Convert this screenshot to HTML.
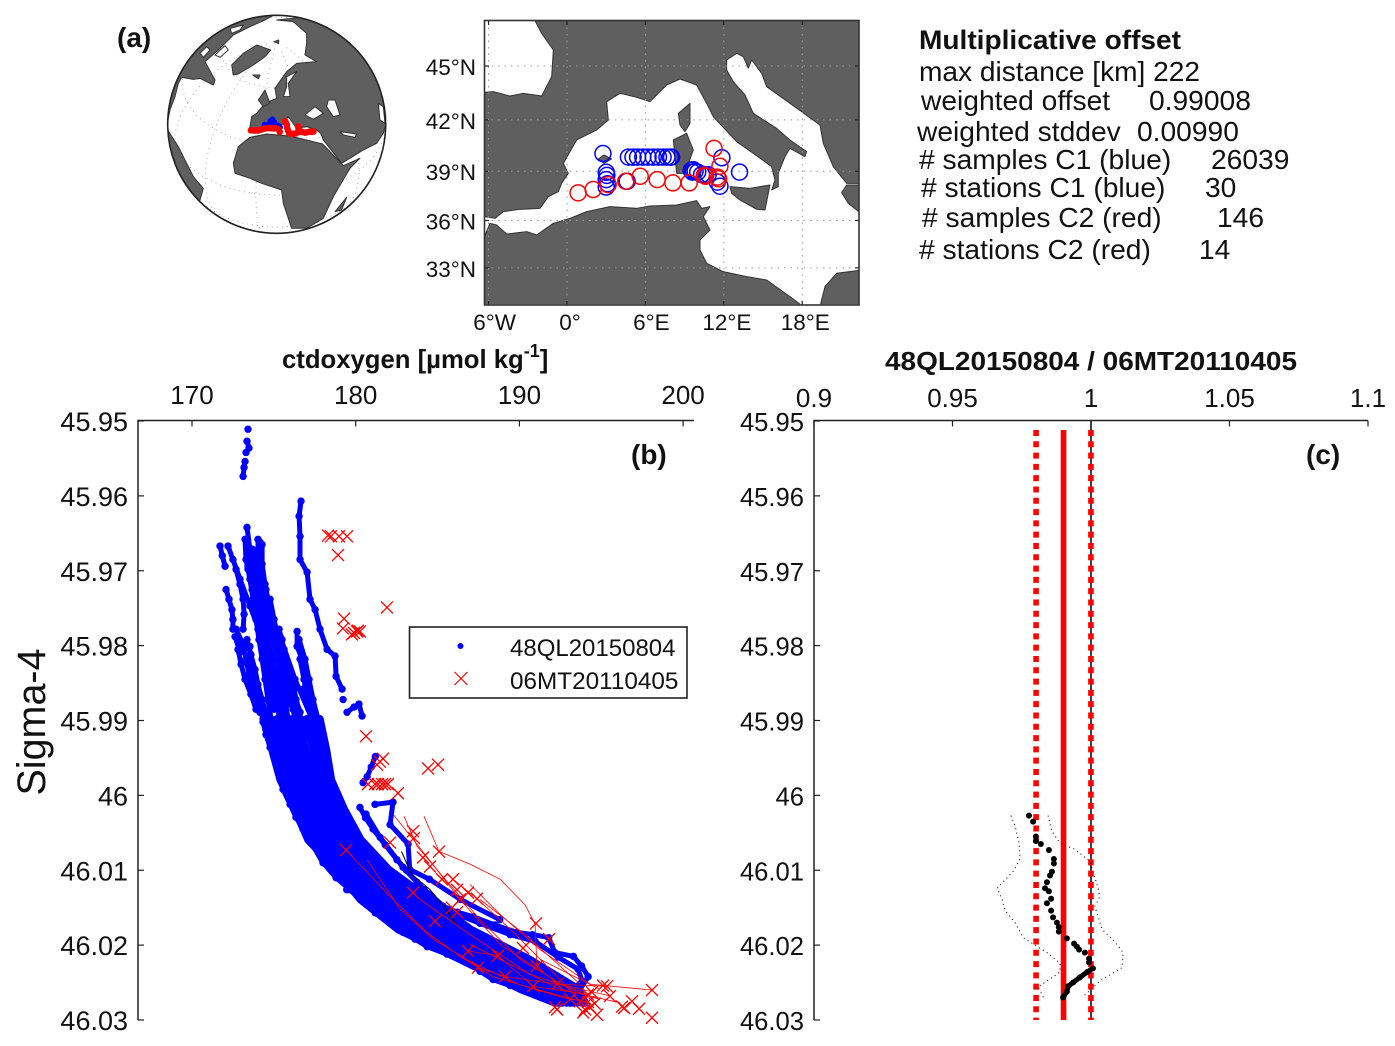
<!DOCTYPE html>
<html lang="en">
<head>
<meta charset="utf-8">
<title>Multiplicative offset crossover figure</title>
<style>
html,body{margin:0;padding:0;background:#fff}
svg{display:block;font-family:"Liberation Sans",Arial,sans-serif;fill:#111}
.land{fill:#5f5f5f;stroke:#333;stroke-width:3;stroke-linejoin:round}
.hole{fill:#fff;stroke:#333;stroke-width:3;stroke-linejoin:round}
</style>
</head>
<body>
<svg id="fig" xmlns="http://www.w3.org/2000/svg" width="1395" height="1046" viewBox="0 0 1395 1046">
  <defs>
    <clipPath id="globe-clip"><circle cx="380" cy="373" r="327"/></clipPath>
    <clipPath id="map-clip"><rect x="43" y="32" width="1124" height="851"/></clipPath>
  </defs>

  <!-- Panel a: globe -->
  <text x="117" y="47" font-size="28" font-weight="bold">(a)</text>
  <g id="globe-grid"></g>
  <g transform="translate(150,0) scale(0.3333)">
    <g clip-path="url(#globe-clip)">
      <polygon class="land" points="50,380 60,330 75,290 85,250 95,232 130,238 150,235 190,255 195,240 165,185 205,150 230,125 250,105 300,80 345,60 400,30 100,30 20,200"/>
      <polygon class="hole" points="195,165 225,137 235,150 210,172"/>
      <polygon class="hole" points="150,160 170,140 180,150 160,172"/>
      <polygon class="hole" points="240,85 280,75 270,90 245,100"/>
      <polygon class="land" points="250,225 245,195 280,160 320,135 362,150 345,170 310,195 265,222"/>
      <polygon class="land" points="50,385 85,440 110,490 130,530 160,565 150,600 120,640 0,640 0,385"/>
      <polygon class="land" points="380,60 430,65 470,100 470,130 465,165 500,185 440,190 410,215 375,265 380,295 345,310 320,340 305,350 298,392 340,388 400,372 415,350 440,385 470,380 500,390 512,400 520,420 575,490 640,450 680,430 700,400 730,300 690,200 600,100 480,50"/>
      <polygon class="hole" points="465,345 495,320 520,340 490,358"/>
      <polygon class="hole" points="535,300 555,300 570,345 550,350 530,320"/>
      <polygon class="hole" points="570,395 620,402 615,412 580,405"/>
      <polygon class="hole" points="400,290 410,260 410,230 440,215 415,250 420,290"/>
      <polygon class="hole" points="685,310 700,320 705,370 690,360"/>
      <polygon class="land" points="325,300 345,270 360,310 340,320"/>
      <polygon class="land" points="308,225 330,225 325,236"/>
      <polygon class="land" points="372,125 386,120 386,131"/>
      <polygon class="land" points="300,412 265,440 250,490 255,520 300,535 335,550 395,570 400,610 425,685 470,685 520,655 550,590 600,505 630,475 580,497 518,432 420,408 350,402"/>
      <polygon class="land" points="555,635 590,592 575,630"/>
    </g>
  </g>
  <g id="globe-stations"></g>
  <circle cx="276.7" cy="124.3" r="109" fill="none" stroke="#222" stroke-width="1.6"/>

  <!-- Panel a: regional map -->
  <g transform="translate(470,10) scale(0.3333)">
    <g clip-path="url(#map-clip)">
      <polygon class="land" points="43,247 70,245 120,258 160,250 215,258 245,200 250,120 215,70 195,32 1167,32 1167,520 1130,520 1090,470 1060,400 1050,345 960,280 890,230 875,190 845,150 835,175 820,140 800,130 770,150 770,180 790,215 825,255 850,310 920,355 960,390 1010,425 1005,440 960,415 945,440 925,490 925,530 905,540 915,510 905,470 850,430 800,395 730,320 710,280 680,225 630,207 590,225 540,275 500,262 450,250 410,275 415,330 380,360 320,390 280,460 295,490 275,520 265,545 235,560 210,595 150,598 100,605 75,625 43,620"/>
      <polygon class="land" points="43,680 60,640 80,645 110,672 170,665 200,675 250,640 300,625 350,605 420,590 500,595 540,588 620,585 680,572 695,595 720,590 700,620 720,660 690,690 690,720 710,760 760,785 830,800 890,810 960,860 1000,890 43,890"/>
      <polygon class="land" points="1050,890 1065,830 1100,790 1175,780 1175,890"/>
      <polygon class="land" points="625,310 660,280 660,340 645,365 630,345"/>
      <polygon class="land" points="610,390 650,370 670,420 645,490 620,490 615,440"/>
      <polygon class="land" points="780,530 840,535 900,525 885,600 860,598 810,570 785,550"/>
      <polygon class="land" points="385,447 402,435 425,447 402,460"/>
      <polygon class="land" points="1115,548 1130,525 1175,525 1175,612 1135,580"/>
    </g>
  </g>
  <g id="map-grid"></g>
  <g id="map-stations"></g>
  <rect x="484.5" y="20.5" width="374.5" height="284.5" fill="none" stroke="#333" stroke-width="1.6"/>
  <g id="map-labels" font-size="22.5"></g>

  <!-- Summary text -->
  <g font-size="28.2">
    <text x="919" y="49" font-weight="bold" font-size="27" textLength="262" lengthAdjust="spacingAndGlyphs">Multiplicative offset</text>
    <text x="919" y="81" textLength="281" lengthAdjust="spacingAndGlyphs">max distance [km] 222</text>
    <text x="921" y="110">weighted offset</text>
    <text x="1149" y="110">0.99008</text>
    <text x="917" y="141">weighted stddev</text>
    <text x="1137" y="141">0.00990</text>
    <text x="919" y="169"># samples C1 (blue)</text>
    <text x="1211" y="169">26039</text>
    <text x="921" y="197"># stations C1 (blue)</text>
    <text x="1205" y="197">30</text>
    <text x="922" y="227"># samples C2 (red)</text>
    <text x="1217" y="227">146</text>
    <text x="919" y="259"># stations C2 (red)</text>
    <text x="1199" y="259">14</text>
  </g>

  <!-- Panel b -->
  <text x="282" y="368" font-size="25.7" font-weight="bold">ctdoxygen [µmol kg<tspan font-size="18" dy="-11">-1</tspan><tspan dy="11">]</tspan></text>
  <text transform="translate(45,722) rotate(-90)" text-anchor="middle" font-size="39.5">Sigma-4</text>
  <g id="panel-b-marks"></g>
  <g id="panel-b-axes"></g>
  <text x="631" y="464" font-size="28" font-weight="bold">(b)</text>
  <g>
    <rect x="409.5" y="627" width="277.5" height="71" fill="#fff" stroke="#222" stroke-width="1.6"/>
    <circle cx="460.5" cy="646" r="3" fill="#00f"/>
    <path d="M454.5 672 L467.5 685 M467.5 672 L454.5 685" stroke="#f00" stroke-width="1.2" fill="none"/>
    <text x="510" y="656" font-size="24">48QL20150804</text>
    <text x="510" y="689" font-size="24.3">06MT20110405</text>
  </g>

  <!-- Panel c -->
  <text x="885" y="370" font-size="25.5" font-weight="bold" textLength="412" lengthAdjust="spacingAndGlyphs">48QL20150804 / 06MT20110405</text>
  <g id="panel-c-marks"></g>
  <g id="panel-c-axes"></g>
  <text x="1306" y="464" font-size="28" font-weight="bold">(c)</text>
</svg>

<script>
// ---------- Panel b data ----------
const xTicksB = [170, 180, 190, 200];
const sigmaTicks = [45.95, 45.96, 45.97, 45.98, 45.99, 46, 46.01, 46.02, 46.03];
const sigmaTickLabels = ['45.95', '45.96', '45.97', '45.98', '45.99', '46', '46.01', '46.02', '46.03'];

// Blue strands read from the upper part of the cloud: [oxygen, sigma]
const blueStrands = [
  [[173.42,45.9511]],
  [[173.36,45.9527],[173.48,45.9536],[173.3,45.9542]],
  [[173.24,45.9554],[173.18,45.9562],[173.12,45.9574]],
  [[176.66,45.9607],[176.54,45.9627],[176.6,45.9654],[176.6,45.9685],[177.03,45.9702],[177.21,45.9738],[177.52,45.9752],[177.82,45.9778],[178.25,45.9805],[178.74,45.9814],[178.8,45.9841],[179.17,45.9858]],
  [[179.23,45.9872]],
  [[179.47,45.9889],[179.9,45.9882],[180.2,45.9878],[180.39,45.9894]],
  [[171.71,45.9667],[171.85,45.968],[172.02,45.9694]],
  [[172.08,45.9725],[172.26,45.9738],[172.44,45.9752],[172.5,45.9765],[172.5,45.9778]],
  [[172.2,45.9667],[172.5,45.9685],[172.93,45.9711],[173.54,45.9747],[174.15,45.9782],[174.77,45.9822],[175.56,45.9854],[176.42,45.9889]],
  [[173.36,45.9642],[173.54,45.9671],[173.42,45.9694],[173.97,45.9721],[174.46,45.9752],[175.07,45.9788],[175.8,45.9832],[176.6,45.9889]],
  [[174.15,45.9662],[173.85,45.9681],[174.28,45.9711],[174.46,45.9741],[175.38,45.9788],[176.29,45.9845],[177.33,45.9898]],
  [[172.63,45.9788],[172.93,45.9809],[173.54,45.9801],[173.54,45.9822],[173.73,45.9849],[174.15,45.9868],[174.15,45.9889]],
  [[172.69,45.9698],[172.93,45.9718],[173.12,45.9738],[173.18,45.9758],[173.12,45.9778]],
  [[172.69,45.9778],[173.12,45.9798],[173.3,45.9818],[173.48,45.9838],[173.73,45.9858],[174.03,45.9878],[174.34,45.9898]],
  // dense central column
  [[173.24,45.9658],[173.3,45.9685],[173.54,45.9711],[173.73,45.9738],[173.91,45.9765],[174.09,45.9792],[174.28,45.9818],[174.46,45.9845],[174.64,45.9872],[174.83,45.9898],[175.01,45.9925]],
  [[173.67,45.9671],[173.67,45.9698],[173.91,45.9725],[174.09,45.9752],[174.28,45.9778],[174.52,45.9805],[174.77,45.9832],[175.01,45.9858],[175.25,45.9885],[175.44,45.9912]],
  [[174.03,45.9658],[174.03,45.9685],[174.28,45.9711],[174.46,45.9738],[174.7,45.9765],[174.95,45.9792],[175.19,45.9818],[175.44,45.9845],[175.68,45.9872],[175.87,45.9898],[176.05,45.9925]],
  [[174.52,45.9725],[174.77,45.9752],[175.07,45.9778],[175.32,45.9805],[175.62,45.9832],[175.87,45.9858],[176.17,45.9885],[176.42,45.9912]],
  [[175.5,45.9792],[175.68,45.9818],[176.05,45.9845],[176.35,45.9872],[176.66,45.9898],[176.84,45.9925]],
  [[173.42,45.9671],[173.42,45.9698],[173.67,45.9725],[173.85,45.9752],[174.03,45.9778],[174.28,45.9805],[174.52,45.9832],[174.77,45.9858],[175.01,45.9885]],
  [[173.85,45.9678],[173.91,45.9705],[174.15,45.9731],[174.34,45.9758],[174.58,45.9785],[174.83,45.9812],[175.07,45.9838],[175.32,45.9865],[175.56,45.9892]],
  [[174.28,45.9665],[174.28,45.9691],[174.46,45.9718],[174.64,45.9745],[174.89,45.9772],[175.19,45.9798],[175.44,45.9825],[175.74,45.9852],[175.99,45.9878]],
  [[174.77,45.9738],[175.01,45.9765],[175.25,45.9792],[175.56,45.9818],[175.8,45.9845],[176.11,45.9872],[176.35,45.9898]],
  [[175.32,45.9778],[175.62,45.9805],[175.93,45.9832],[176.23,45.9858],[176.48,45.9885]],
  [[173.36,45.9792],[173.6,45.9812],[173.85,45.9832],[174.03,45.9852],[174.28,45.9872],[174.52,45.9892]],
  [[172.81,45.9805],[173.0,45.9825],[173.24,45.9845],[173.6,45.9865],[173.91,45.9885]],
  [[176.42,45.9781],[176.42,45.9801],[176.72,45.9818],[177.03,45.9845],[177.33,45.9876],[177.58,45.9898]],
  [[176.54,45.9792],[176.9,45.9818],[177.15,45.9845],[177.39,45.9872],[177.7,45.9898],[177.94,45.9925]],
  [[176.6,45.9818],[176.84,45.9845],[177.03,45.9872],[177.27,45.9898],[177.52,45.9925]],
  [[176.78,45.9858],[176.96,45.9872],[177.15,45.9885],[177.45,45.9905]],
  // right-hand lobe
  [[181.2,45.9948],[180.95,45.9962],[180.7,45.9975],[180.45,45.9983]],
  [[180.26,46.0016],[180.6,46.003],[181.06,46.0045],[181.8,46.0066],[182.52,46.0086],[183.1,46.01],[183.74,46.0116],[184.5,46.0132],[185.33,46.0148],[186.2,46.0156],[187.18,46.0162],[188.5,46.0173],[189.85,46.0183],[190.8,46.0186],[191.79,46.019],[192.16,46.021],[193.3,46.0215],[193.8,46.0228],[194.2,46.0242],[193.7,46.0259],[192.48,46.027]],
  [[180.63,46.0025],[181.49,46.0056],[182.89,46.0096],[184.18,46.0126],[185.76,46.0155],[187.6,46.0171],[189.43,46.0186],[190.96,46.0195],[192.36,46.0216],[193.58,46.0232],[193.83,46.0248],[193.09,46.0262]],
  [[181.18,46.0012],[182.28,46.0009],[182.1,46.0039],[183.2,46.0065],[183.3,46.0099],[184.5,46.0112],[186.4,46.0139],[188.8,46.0166]],
  // bumpy lower-left edge of the cloud
  [[174.34,45.9902],[174.52,45.9919],[174.77,45.9936],[175.07,45.9952],[175.32,45.9972],[175.56,45.9992],[175.99,46.0012],[176.35,46.0029],[176.78,46.0045],[177.33,46.0065],[178.0,46.009],[178.8,46.011],[179.65,46.0126],[180.45,46.0142],[181.3,46.0156],[182.1,46.0171],[182.9,46.0183],[183.63,46.0192],[184.36,46.0202],[185.58,46.0212],[186.8,46.0223],[187.6,46.0235],[188.39,46.0246],[189.43,46.0254],[190.47,46.0262],[191.26,46.0269],[192.06,46.0275]]
];

// Lower main band: each strand shares the sigma levels below
const bandSigma = [45.9898, 45.9939, 45.9979, 46.0019, 46.0059, 46.0099, 46.0139, 46.0179, 46.0219, 46.0259, 46.0277];
const bandStrandA = [174.4,174.9,175.4,176.3,177.1,178.8,180.3,182.6,186.4,190.1,192.2];
const bandStrandB = [174.8,175.3,175.8,176.7,177.5,179.2,180.8,183.1,186.9,190.5,192.4];
const bandStrandC = [175.2,175.7,176.2,177.0,177.9,179.6,181.3,183.7,187.5,191.0,192.6];
const bandStrandD = [175.7,176.1,176.6,177.4,178.3,180.0,181.9,184.2,188.0,191.4,192.9];
const bandStrandE = [176.1,176.5,177.0,177.8,178.7,180.4,182.4,184.8,188.5,191.9,193.1];
const bandStrandF = [176.5,176.9,177.4,178.2,179.1,180.8,182.9,185.3,189.0,192.3,193.3];
const bandStrandG = [177.0,177.4,177.7,178.6,179.5,181.2,183.4,185.9,189.6,192.8,193.5];
const bandStrandH = [177.4,177.8,178.1,179.0,179.9,181.6,184.0,186.4,190.1,193.2,193.8];
const bandStrandI = [177.8,178.2,178.5,179.3,180.3,182.0,184.5,187.0,190.6,193.6,194.0];

const blueStray = [[175.05,45.9948],[178.4,46.0095],[179.45,46.0126],[181.2,46.0157],[176.9,46.0049],[184.2,46.0188],[187.3,46.0229],[189.2,46.0247]];

// Red crosses: [oxygen, sigma]
const redCrosses = [
  [178.31,45.9653],[178.49,45.9654],[178.98,45.9654],[179.47,45.9654],[178.92,45.9679],[181.91,45.9749],
  [179.29,45.9764],[179.22,45.9777],[179.77,45.9785],[180.08,45.9781],[180.26,45.9781],[180.14,45.978],
  [179.9,45.9783],[180.63,45.9921],[181.48,45.9955],[181.3,45.9959],[181.67,45.9951],[184.42,45.9964],[185.03,45.9959],
  [181.18,45.9985],[181.36,45.9985],[181.61,45.9985],[181.79,45.9985],[181.97,45.9985],[180.75,45.9985],[182.58,45.9997],
  [179.41,46.0073],[182.1,46.0063],[183.5,46.0048],[183.56,46.0057],[185.09,46.0075],[184.11,46.0083],[184.54,46.0095],
  [185.27,46.0112],[185.94,46.0112],[186.19,46.0126],[186.86,46.013],[187.41,46.0138],[186.37,46.0139],[183.5,46.013],
  [185.88,46.015],[186.19,46.0156],[184.84,46.0168],[191.01,46.0171],[191.81,46.0192],[190.22,46.0204],[186.86,46.0208],
  [188.69,46.0214],[187.47,46.023],[191.07,46.0228],[189.12,46.0242],[190.83,46.0255],[192.3,46.0252],[195.11,46.0254],
  [195.35,46.0255],[194.19,46.0266],[194.43,46.0263],[195.53,46.0268],[193.09,46.0272],[193.7,46.0275],[192.17,46.0283],
  [192.3,46.0286],[194.01,46.0286],[194.31,46.0283],[194.74,46.0293],[196.27,46.0282],[196.88,46.0275],[197.31,46.0285],
  [198.1,46.026],[198.1,46.0297],[194.19,46.0276],[193.9,46.029],[196.4,46.0284],[194.6,46.0278]
];

// Thin red profile lines: [oxygen, sigma]
const redProfiles = [
  [[179.41,46.0073],[182.28,46.0139],[184.36,46.0183],[186.37,46.0215],[188.39,46.0242],[192.48,46.0269],[194.31,46.0277]],
  [[180.69,46.0086],[182.71,46.0152],[184.73,46.0192],[186.99,46.0222],[190.04,46.0253],[193.4,46.0273]],
  [[184.17,46.0028],[185.09,46.0075],[187.0,46.0092],[188.82,46.0112],[190.34,46.0146],[190.96,46.0172],[191.07,46.0228]],
  [[182.95,46.0028],[183.75,46.0068],[185.46,46.0112],[187.6,46.0166],[190.04,46.0219],[193.1,46.0259],[194.93,46.0273]],
  [[182.28,46.0025],[184.24,46.0079],[186.37,46.0139],[188.82,46.0199],[192.48,46.0252],[195.54,46.0268]],
  [[186.99,46.0119],[188.82,46.0159],[191.26,46.0206],[194.31,46.0252],[198.1,46.026]],
  [[186.99,46.0199],[188.82,46.0219],[192.48,46.0259],[196.15,46.0277]],
  [[183.92,46.0139],[186.99,46.0186],[190.65,46.0239],[194.31,46.0266]],
  [[191.26,46.0219],[194.91,46.0259]],
  [[187.6,46.0139],[190.34,46.0186],[193.7,46.0252]],
  [[186.86,46.0208],[188.69,46.0214],[190.83,46.0255],[194.19,46.0266]],
  [[187.47,46.023],[189.12,46.0242],[192.3,46.0252],[195.35,46.0255]],
  [[185.94,46.0112],[187.41,46.0138],[189.5,46.018],[192.0,46.0235],[193.7,46.0275]]
];

const blackProfile = [[182.8,46.0075],[183.4,46.0105],[184.5,46.0125],[185.4,46.0148],[186.1,46.0172]];

// ---------- Panel c data ----------
const xTicksC = [0.9, 0.95, 1, 1.05, 1.1];
const xTickLabelsC = ['0.9', '0.95', '1', '1.05', '1.1'];
const weightedOffset = 0.99008;
const weightedStd = 0.0099;
const referenceRatio = 1;
const lineSigmaRange = [45.9512, 46.03];
const ratioSigma = [46.0027,46.0035,46.0055,46.0061,46.0065,46.0073,46.0085,46.0091,46.0102,46.0107,46.0116,46.0124,46.0128,46.0138,46.0144,46.0154,46.0163,46.017,46.0176,46.0182,46.0191,46.0198,46.0202,46.0206,46.021,46.0218,46.0223,46.0231,46.0236,46.0243,46.025,46.0255,46.0262,46.027];
const ratioValues = [0.9776,0.9791,0.9801,0.9801,0.9819,0.9848,0.9866,0.9866,0.9859,0.9852,0.9841,0.9834,0.9848,0.9856,0.9841,0.9856,0.9863,0.9877,0.9884,0.9884,0.9913,0.9939,0.9949,0.9957,0.9978,0.9993,0.9993,1.0007,0.9986,0.996,0.9935,0.9917,0.9913,0.9899];
const lowerSigma = [46.0027,46.0041,46.0063,46.0085,46.0102,46.0116,46.0124,46.0139,46.0154,46.017,46.019,46.021,46.0224,46.0236,46.0256,46.0271];
const lowerValues = [0.9711,0.9726,0.974,0.9744,0.9718,0.9682,0.9661,0.9679,0.969,0.9726,0.9755,0.9841,0.9888,0.9888,0.9809,0.983];
const upperSigma = [46.0027,46.0048,46.0064,46.0072,46.0088,46.0128,46.0138,46.0148,46.0179,46.0196,46.021,46.023,46.0248,46.027];
const upperValues = [0.9845,0.9859,0.9888,0.9942,0.9996,1.0029,1.0029,1.0014,1.004,1.0087,1.0116,1.0112,1.0032,0.9968];

// ---------- Map data ----------
const mapLatTicks = [45, 42, 39, 36, 33];
const mapLatLabels = ['45°N', '42°N', '39°N', '36°N', '33°N'];
const mapLonTicks = [-6, 0, 6, 12, 18];
const mapLonLabels = ['6°W', '0°', '6°E', '12°E', '18°E'];
const blueStationLon = [2.75,3.0,3.0,3.0,3.1,4.7,5.05,5.4,5.8,6.2,6.6,7.0,7.35,7.65,7.9,8.0,4.6,9.5,9.65,9.8,10.0,10.3,10.55,10.8,11.85,13.2,11.5,11.7,3.05,9.6];
const blueStationLat = [40.05,38.94,38.5,38.05,38.25,39.84,39.84,39.84,39.84,39.84,39.84,39.84,39.84,39.84,39.84,39.84,38.4,39.05,39.1,39.0,38.95,38.8,38.8,38.8,39.8,38.95,38.35,38.1,38.75,38.95];
const redStationLon = [0.85,2.0,3.15,4.5,5.6,6.9,8.1,9.35,10.5,10.6,11.5,11.6,11.7,11.25];
const redStationLat = [37.7,37.9,38.2,38.4,38.7,38.5,38.3,38.3,38.75,38.7,38.65,38.55,39.3,40.35];

// ---------- Globe data ----------
const globeCenterLon = 11;
const globeCenterLat = 40.5;
const globeRedLon = [-6,-4.5,-3,-1.5,0,1.5,3,4.5,6,7.5,9,10.5,12,13,17,17.5,18,18,18.5,19,20.5,22,23.5,25,25.5,25.5,26,26.5,28,29.5,31,32.5,34,35];
const globeRedLat = [36,36.2,36.3,36.5,37,37.5,38,38.3,38.4,38.3,38.3,38.5,38,36.5,42,41,40,38.5,37,35.5,35,35,35,35.5,37,38.5,37,35.5,35,34.5,34.5,34.5,34,34];
const globeBlueLon = [2.75,3,4.7,6,8,9.7,10.5,11.8,13.2,6.5,8,9.3,7];
const globeBlueLat = [40,38.5,39.8,39.8,39.8,39,38.8,39.8,39,42,43,41.5,41];
const globeMeridians = [-60,-30,0,30,60];
const globeParallels = [-30,0,30,60];

// ---------- Scales ----------
const svgNS = 'http://www.w3.org/2000/svg';
function xB(v) { return 192 + (v - 170) * 16.37; }
function xC(v) { return 814 + (v - 0.9) * 2770; }
function yS(s) { return 421 + (s - 45.95) * 7487.5; }
function lonX(lon) { return 567 + lon * 13.07; }
function merc(lat) { const r = lat * Math.PI / 180; return Math.log(Math.tan(Math.PI / 4 + r / 2)); }
function latY(lat) { return 66 + (merc(45) - merc(lat)) * 746; }
function globeXY(lon, lat) {
  const d = Math.PI / 180;
  const dl = (lon - globeCenterLon) * d;
  const p = lat * d;
  const p0 = globeCenterLat * d;
  return {
    x: 276.7 + 109 * Math.cos(p) * Math.sin(dl),
    y: 124.3 - 109 * (Math.cos(p0) * Math.sin(p) - Math.sin(p0) * Math.cos(p) * Math.cos(dl)),
    vis: Math.sin(p0) * Math.sin(p) + Math.cos(p0) * Math.cos(p) * Math.cos(dl) > 0
  };
}
function make(tag, attrs, parent) {
  const el = document.createElementNS(svgNS, tag);
  for (const k in attrs) el.setAttribute(k, attrs[k]);
  parent.appendChild(el);
  return el;
}
function ptsOf(pairs, fx) {
  return pairs.map(function (p) { return fx(p[0]).toFixed(1) + ',' + yS(p[1]).toFixed(1); }).join(' ');
}

// ---------- Globe ----------
const gGrid = document.getElementById('globe-grid');
globeMeridians.forEach(function (lon) {
  const pts = [];
  for (let lat = -85; lat <= 85; lat += 5) { const q = globeXY(lon, lat); if (q.vis) pts.push(q.x.toFixed(1) + ',' + q.y.toFixed(1)); }
  const el = make('polyline', {points: pts.join(' '), fill: 'none', stroke: '#999', 'stroke-width': 0.8, 'stroke-dasharray': '1 4'}, gGrid);
  
  
});
globeParallels.forEach(function (lat) {
  const pts = [];
  for (let lon = -180; lon <= 180; lon += 5) { const q = globeXY(lon, lat); if (q.vis) pts.push(q.x.toFixed(1) + ',' + q.y.toFixed(1)); }
  const el = make('polyline', {points: pts.join(' '), fill: 'none', stroke: '#999', 'stroke-width': 0.8, 'stroke-dasharray': '1 4'}, gGrid);
  
  
});
const gSt = document.getElementById('globe-stations');
globeBlueLon.forEach(function (lon, i) {
  const q = globeXY(lon, globeBlueLat[i]);
  const el = make('circle', {cx: q.x, cy: q.y, r: 3, fill: '#00f'}, gSt);
  
  
});
globeRedLon.forEach(function (lon, i) {
  const q = globeXY(lon, globeRedLat[i]);
  const el = make('circle', {cx: q.x, cy: q.y, r: 3.3, fill: '#f00'}, gSt);
  
  
});

// ---------- Regional map ----------
const mGrid = document.getElementById('map-grid');
const mLab = document.getElementById('map-labels');
mapLatTicks.forEach(function (lat, i) {
  const y = latY(lat);
  const line = make('line', {x1: 485, x2: 859, y1: y, y2: y, stroke: '#999', 'stroke-width': 1, 'stroke-dasharray': '1.5 5'}, mGrid);
  
  
  const t1 = make('line', {x1: 485, x2: 489, y1: y, y2: y, stroke: '#222', 'stroke-width': 1.2}, mGrid);
  
  
  const t2 = make('line', {x1: 855, x2: 859, y1: y, y2: y, stroke: '#222', 'stroke-width': 1.2}, mGrid);
  
  
  const lab = make('text', {x: 476, y: y + 9, 'text-anchor': 'end'}, mLab);
  lab.textContent = mapLatLabels[i];
  
  
});
mapLonTicks.forEach(function (lon, i) {
  const x = lonX(lon);
  const line = make('line', {x1: x, x2: x, y1: 21, y2: 305, stroke: '#999', 'stroke-width': 1, 'stroke-dasharray': '1.5 5'}, mGrid);
  
  
  const t1 = make('line', {x1: x, x2: x, y1: 21, y2: 25, stroke: '#222', 'stroke-width': 1.2}, mGrid);
  
  
  const t2 = make('line', {x1: x, x2: x, y1: 301, y2: 305, stroke: '#222', 'stroke-width': 1.2}, mGrid);
  
  
  const lab = make('text', {x: x + (i === 0 || i === 2 ? 6 : 3), y: 330, 'text-anchor': 'middle'}, mLab);
  lab.textContent = mapLonLabels[i];
  
  
});
const mSt = document.getElementById('map-stations');
blueStationLon.forEach(function (lon, i) {
  const el = make('circle', {cx: lonX(lon), cy: latY(blueStationLat[i]), r: 8, fill: 'none', stroke: '#00f', 'stroke-width': 1.5}, mSt);
  
  
});
redStationLon.forEach(function (lon, i) {
  const el = make('circle', {cx: lonX(lon), cy: latY(redStationLat[i]), r: 8, fill: 'none', stroke: '#f00', 'stroke-width': 1.5}, mSt);
  
  
});

// ---------- Axes ----------
function drawAxes(host, left, right, xScale, ticks, labels, tickY, labFont, yFont) {
  const ax = make('path', {d: 'M' + left + ' 1020 V420.5 H' + right, fill: 'none', stroke: '#222', 'stroke-width': 1.5}, host);
  
  
  ticks.forEach(function (v, i) {
    const x = xScale(v);
    const t = make('line', {x1: x, x2: x, y1: 420.5, y2: 426.5, stroke: '#222', 'stroke-width': 1.2}, host);
    
    
    const lab = make('text', {x: x, y: tickY, 'text-anchor': 'middle', 'font-size': labFont}, host);
    lab.textContent = labels[i];
    
    
  });
  sigmaTicks.forEach(function (s, i) {
    const y = yS(s);
    const t = make('line', {x1: left, x2: left + 6, y1: y, y2: y, stroke: '#222', 'stroke-width': 1.2}, host);
    
    
    const lab = make('text', {x: left - 10, y: y + 10, 'text-anchor': 'end', 'font-size': yFont}, host);
    lab.textContent = sigmaTickLabels[i];
    
    
  });
}
drawAxes(document.getElementById('panel-b-axes'), 138, 694, xB, xTicksB, xTicksB.map(String), 404, 26, 27);
drawAxes(document.getElementById('panel-c-axes'), 814, 1368, xC, xTicksC, xTickLabelsC, 407, 26, 25.6);

// ---------- Panel b marks ----------
const mB = document.getElementById('panel-b-marks');
function drawBlue(pairs) {
  const line = make('polyline', {points: ptsOf(pairs, xB), fill: 'none', stroke: '#00f', 'stroke-width': 5, 'stroke-linejoin': 'round', 'stroke-linecap': 'round'}, mB);
  
  
  pairs.forEach(function (p) {
    const c = make('circle', {cx: xB(p[0]), cy: yS(p[1]), r: 3.7, fill: '#00f'}, mB);
    
    
  });
}
blueStrands.forEach(drawBlue);
[bandStrandA, bandStrandB, bandStrandC, bandStrandD, bandStrandE, bandStrandF, bandStrandG, bandStrandH, bandStrandI].forEach(function (ox) {
  const line = make('polyline', {points: ptsOf(ox.map(function (v, i) { return [v, bandSigma[i]]; }), xB), fill: 'none', stroke: '#00f', 'stroke-width': 8, 'stroke-linejoin': 'round', 'stroke-linecap': 'round'}, mB);
  
  
});
blueStray.forEach(function (p) {
  const c = make('circle', {cx: xB(p[0]), cy: yS(p[1]), r: 3.7, fill: '#00f'}, mB);
  
  
});
const blackLine = make('polyline', {points: ptsOf(blackProfile, xB), fill: 'none', stroke: '#000', 'stroke-width': 1}, mB);


redProfiles.forEach(function (pairs) {
  const line = make('polyline', {points: ptsOf(pairs, xB), fill: 'none', stroke: '#f00', 'stroke-width': 0.8}, mB);
  
  
});
redCrosses.forEach(function (p) {
  const x = xB(p[0]);
  const y = yS(p[1]);
  const c = make('path', {d: 'M' + (x - 6) + ' ' + (y - 6) + 'L' + (x + 6) + ' ' + (y + 6) + 'M' + (x + 6) + ' ' + (y - 6) + 'L' + (x - 6) + ' ' + (y + 6), fill: 'none', stroke: '#f00', 'stroke-width': 1.3}, mB);
  
  
});

// ---------- Panel c marks ----------
const mC = document.getElementById('panel-c-marks');
const refLine = make('line', {x1: xC(referenceRatio), x2: xC(referenceRatio), y1: yS(45.95), y2: yS(46.03), stroke: '#111', 'stroke-width': 1.6}, mC);


const offLine = make('line', {x1: xC(weightedOffset), x2: xC(weightedOffset), y1: yS(lineSigmaRange[0]), y2: yS(lineSigmaRange[1]), stroke: '#f00', 'stroke-width': 5.6}, mC);


const loLine = make('line', {x1: xC(weightedOffset - weightedStd), x2: xC(weightedOffset - weightedStd), y1: yS(lineSigmaRange[0]), y2: yS(lineSigmaRange[1]), stroke: '#f00', 'stroke-width': 5.6, 'stroke-dasharray': '6 5.3'}, mC);


const hiLine = make('line', {x1: xC(weightedOffset + weightedStd), x2: xC(weightedOffset + weightedStd), y1: yS(lineSigmaRange[0]), y2: yS(lineSigmaRange[1]), stroke: '#f00', 'stroke-width': 5.6, 'stroke-dasharray': '6 5.3'}, mC);


const loBand = make('polyline', {points: lowerValues.map(function (v, i) { return xC(v).toFixed(1) + ',' + yS(lowerSigma[i]).toFixed(1); }).join(' '), fill: 'none', stroke: '#111', 'stroke-width': 1.1, 'stroke-dasharray': '1 3.5'}, mC);


const upBand = make('polyline', {points: upperValues.map(function (v, i) { return xC(v).toFixed(1) + ',' + yS(upperSigma[i]).toFixed(1); }).join(' '), fill: 'none', stroke: '#111', 'stroke-width': 1.1, 'stroke-dasharray': '1 3.5'}, mC);


const ratioTail = make('polyline', {points: ratioValues.slice(27).map(function (v, i) { return xC(v).toFixed(1) + ',' + yS(ratioSigma[i + 27]).toFixed(1); }).join(' '), fill: 'none', stroke: '#000', 'stroke-width': 5}, mC);


ratioValues.forEach(function (v, i) {
  const c = make('circle', {cx: xC(v), cy: yS(ratioSigma[i]), r: 3, fill: '#000'}, mC);
  
  
});
</script>
</body>
</html>
